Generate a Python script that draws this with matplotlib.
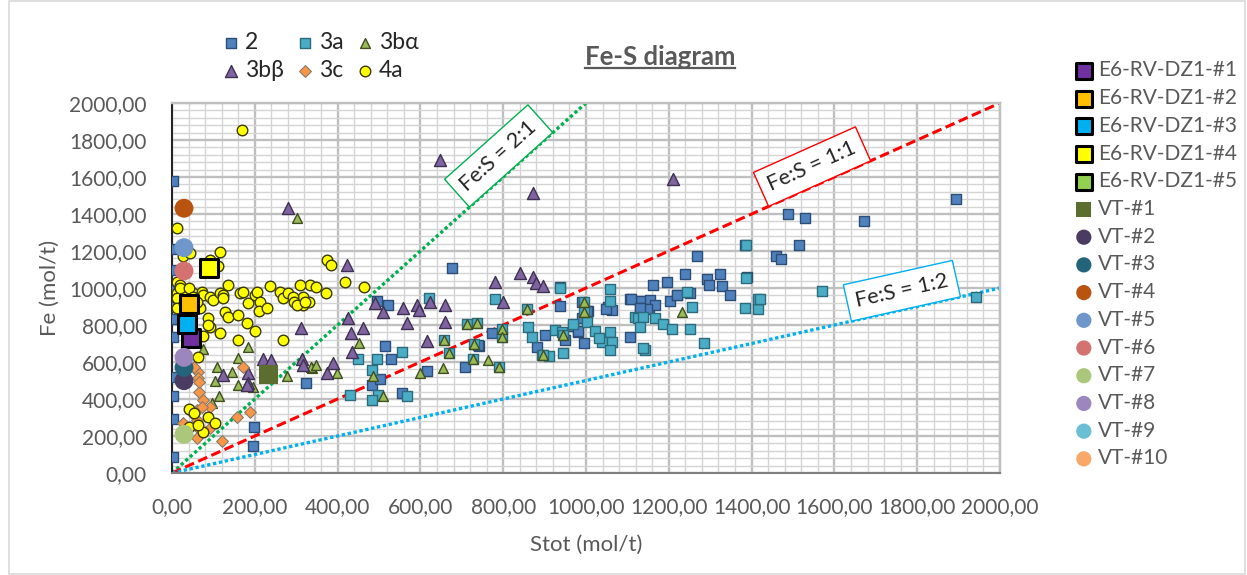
import numpy as np
import matplotlib
matplotlib.use('Agg')
import matplotlib.pyplot as plt
from matplotlib.ticker import MultipleLocator, FuncFormatter
from matplotlib.lines import Line2D
from matplotlib.patches import Rectangle

plt.rcParams['font.family'] = ['Lato', 'DejaVu Sans']

# ---- data (Stot, Fe in mol/t) ----
# group 2 (blue squares)
s2_x = [2, 2, 2, 2, 2, 2, 2, 2, 2, 2, 2, 198, 196, 324, 494, 522, 514, 529, 482, 502,
        555, 616, 676, 742, 708, 772, 739, 881, 901, 949, 969, 981, 990, 994, 1006,
        1054, 1062, 937, 1106, 1134, 1155, 1130, 1151, 1167, 1203, 1219, 1251, 1163,
        1195, 1239, 1292, 1296, 1328, 1348, 1324, 1267, 1385, 1388, 1221, 1108, 1106,
        1147, 1131, 1893, 1672, 1529, 1489, 1515, 1460, 1472, 937, 991, 1002, 980, 1048]
s2_y = [1580, 1210, 1100, 990, 900, 835, 735, 520, 415, 290, 85, 250, 145, 485, 930, 908,
        688, 616, 476, 507, 431, 552, 1106, 686, 575, 755, 692, 683, 746, 719, 794, 764,
        836, 705, 877, 899, 881, 1007, 938, 929, 935, 890, 884, 908, 929, 962, 971, 1016,
        1034, 1074, 1047, 1016, 1013, 962, 1077, 1174, 1232, 1058, 962, 940, 737, 886,
        894, 1479, 1364, 1376, 1400, 1233, 1175, 1157, 903, 926, 875, 768, 889]

# group 3a (cyan squares)
s3a_x = [621, 450, 494, 555, 482, 430, 498, 567, 482, 780, 937, 1058, 1058, 860, 869, 925,
         941, 945, 1058, 1038, 1062, 1002, 1058, 1143, 1118, 1126, 1167, 1187, 1207, 1251,
         1255, 1243, 1284, 893, 1384, 1416, 1416, 1138, 1131, 1138, 1386, 1421, 1569, 1941,
         1386, 911, 1022, 1032, 968,
         712, 736, 796, 796, 730, 857, 897, 790, 945, 994, 994, 656, 668, 726]
s3a_y = [944, 614, 614, 652, 557, 422, 422, 418, 395, 940, 998, 995, 929, 791, 737, 773,
         764, 651, 764, 710, 710, 818, 665, 665, 845, 836, 840, 805, 777, 777, 895, 976,
         705, 638, 894, 886, 940, 845, 787, 674, 1233, 938, 985, 949, 1056, 633, 768, 730,
         805,
         805, 813, 777, 734, 695, 888, 638, 573, 745, 926, 872, 719, 647, 614]

# group 3b-alpha (green triangles)
s3ba_x = [75, 184, 160, 108, 144, 104, 160, 114, 96, 277, 337, 196, 303, 452, 486, 510, 600,
          398, 336, 349, 764, 1231, 655,
          712, 736, 796, 796, 730, 857, 897, 790, 945, 994, 994, 656, 668, 726]
s3ba_y = [670, 683, 623, 575, 544, 497, 476, 416, 380, 524, 569, 467, 1377, 701, 526, 418,
          543, 539, 575, 584, 611, 872, 566,
          805, 813, 777, 734, 695, 888, 638, 573, 745, 926, 872, 719, 647, 614]

# group 3b-beta (purple triangles)
s3bb_x = [279, 647, 871, 1211, 422, 490, 510, 559, 591, 596, 624, 660, 567, 659, 424, 462,
          433, 616, 435, 374, 311, 390, 840, 780, 873, 879, 897, 800, 124, 184, 184, 220,
          240, 313, 317, 180]
s3bb_y = [1431, 1692, 1516, 1589, 1124, 921, 872, 890, 908, 881, 926, 908, 813, 818, 836,
          782, 755, 716, 656, 539, 782, 593, 1080, 1034, 1062, 1029, 1011, 926, 530, 539,
          485, 614, 610, 614, 584, 476]

# group 3c (orange diamonds)
s3c_x = [64, 64, 66, 76, 92, 60, 27, 31, 60, 120, 188, 156, 172, 52, 92, 66, 73, 48, 68, 60]
s3c_y = [548, 512, 440, 395, 359, 341, 269, 233, 287, 173, 332, 305, 571, 575, 241, 494,
         358, 322, 232, 188]

# group 4a (yellow circles)
s4a_x = [168, 13, 116, 26, 43, 92, 110, 374, 384, 418, 372, 333, 349, 310, 317, 331, 317,
         464, 11, 19, 136, 237, 11, 31, 51, 72, 76, 92, 100, 116, 124, 124, 128, 136, 164,
         172, 184, 200, 205, 213, 209, 229, 261, 269, 281, 293, 295, 301, 321, 160, 68, 60,
         11, 11, 88, 160, 269, 116, 92, 76, 63, 180, 200, 88, 40, 52, 88, 104, 42, 76, 64,
         20, 40, 50, 30, 45]
s4a_y = [1854, 1326, 1196, 1175, 1187, 1151, 1119, 1150, 1122, 1034, 971, 1016, 1003, 1016,
         953, 926, 908, 1007, 1034, 1016, 1016, 1011, 971, 980, 971, 980, 962, 953, 935,
         971, 962, 944, 872, 845, 971, 980, 917, 962, 980, 926, 876, 890, 978, 944, 971, 953,
         926, 908, 926, 852, 890, 926, 944, 890, 836, 719, 719, 755, 787, 740, 629, 809, 767,
         800, 344, 322, 305, 268, 250, 223, 259, 1000, 1000, 950, 920, 880]

# individual samples
e6_labels = ['E6-RV-DZ1-#1', 'E6-RV-DZ1-#2', 'E6-RV-DZ1-#3', 'E6-RV-DZ1-#4', 'E6-RV-DZ1-#5']
e6_x = [45, 42, 36, 89, None]
e6_y = [728, 913, 806, 1106, None]
e6_colors = ['#7030A0', '#FFC000', '#00B0F0', '#FFFF00', '#92D050']

vt_labels = ['VT-#1', 'VT-#2', 'VT-#3', 'VT-#4', 'VT-#5', 'VT-#6', 'VT-#7', 'VT-#8',
             'VT-#9', 'VT-#10']
vt_x = [233, 29, 29, 29, 29, 29, 29, 29, None, None]
vt_y = [533, 499, 571, 1431, 1218, 1092, 209, 625, None, None]
vt_colors = ['#5B6E2F', '#4A3B62', '#23647A', '#B85410', '#6F97CC', '#D47171', '#AAC77C',
             '#9C86BE', '#6BBFD4', '#F9A86A']

# Fe:S reference lines and their labels
ratio_vals = [2.0, 1.0, 0.5]
ratio_names = ['Fe:S = 2:1', 'Fe:S = 1:1', 'Fe:S = 1:2']
ratio_label_x = [789, 1546, 1763]
ratio_label_y = [1714, 1656, 985]

gray = '#595959'

fig = plt.figure(figsize=(12.47, 5.75), dpi=100)
ax = fig.add_axes([172 / 1247, 1 - 473 / 575, 828 / 1247, 370 / 575])

ax.set_xlim(0, 2000)
ax.set_ylim(0, 2000)
ax.xaxis.set_major_locator(MultipleLocator(200))
ax.yaxis.set_major_locator(MultipleLocator(200))
ax.xaxis.set_minor_locator(MultipleLocator(40))
ax.yaxis.set_minor_locator(MultipleLocator(40))
ax.set_axisbelow(True)
ax.grid(which='major', color='#BFBFBF', lw=1.7)
ax.grid(which='minor', color='#D4D4D4', lw=1.0)
fmt = FuncFormatter(lambda v, p: f'{v:.2f}'.replace('.', ','))
ax.xaxis.set_major_formatter(fmt)
ax.yaxis.set_major_formatter(fmt)
ax.tick_params(which='both', length=0, labelsize=15, labelcolor=gray)
ax.tick_params(axis='x', pad=17)
ax.tick_params(axis='y', pad=18)
ax.spines['left'].set_color('#262626')
ax.spines['left'].set_linewidth(1.5)
ax.spines['bottom'].set_color('#7F7F7F')
ax.spines['bottom'].set_linewidth(1.5)
for sp in ['top', 'right']:
    ax.spines[sp].set_color('#BFBFBF')
    ax.spines[sp].set_linewidth(1.7)

# ratio lines
line_styles = [dict(color='#00B050', ls=(0, (1, 0.8)), lw=2.4),
               dict(color='#FF0000', ls=(0, (3.2, 1.5)), lw=2.2),
               dict(color='#00B0F0', ls=(0, (1, 0.8)), lw=2.4)]
for r, st in zip(ratio_vals, line_styles):
    xe = min(2000, 2000 / r)
    ax.plot([0, xe], [0, r * xe], zorder=2, **st)

for r, name, lx, ly, st in zip(ratio_vals, ratio_names, ratio_label_x, ratio_label_y,
                               line_styles):
    ax.text(lx, ly, name, fontsize=15.5, color='#262626', ha='center', va='center',
            rotation=np.degrees(np.arctan(r)), transform_rotates_text=True,
            rotation_mode='anchor', zorder=6,
            bbox=dict(boxstyle='square,pad=0.4', fc='white', ec=st['color'], lw=1.0))

# group series
kw = dict(zorder=3)
h2 = ax.scatter(s2_x, s2_y, marker='s', s=55, fc='#4F81BD', ec='#2C4D75', lw=1, label='2', **kw)
h3a = ax.scatter(s3a_x, s3a_y, marker='s', s=55, fc='#4BACC6', ec='#2C6B7C', lw=1, label='3a', **kw)
h3ba = ax.scatter(s3ba_x, s3ba_y, marker='^', s=50, fc='#9BBB59', ec='#3F4F20', lw=1, label='3bα', **kw)
h3bb = ax.scatter(s3bb_x, s3bb_y, marker='^', s=75, fc='#8064A2', ec='#3F3151', lw=1, label='3bβ', **kw)
h3c = ax.scatter(s3c_x, s3c_y, marker='D', s=36, fc='#F79646', ec='#8C7B6B', lw=0.8, label='3c', **kw)
h4a = ax.scatter(s4a_x, s4a_y, marker='o', s=58, fc='#FFFF00', ec='#3A3A00', lw=1, label='4a', **kw)

right_handles = []
for lab, x, y, c in zip(e6_labels, e6_x, e6_y, e6_colors):
    xs = [] if x is None else [x]
    ys = [] if y is None else [y]
    right_handles.append(ax.scatter(xs, ys, marker='s', s=160, fc=c, ec='black', lw=2.2,
                                    label=lab, zorder=5))
for i, (lab, x, y, c) in enumerate(zip(vt_labels, vt_x, vt_y, vt_colors)):
    xs = [] if x is None else [x]
    ys = [] if y is None else [y]
    right_handles.append(ax.scatter(xs, ys, marker='s' if i == 0 else 'o',
                                    s=200 if i == 0 else 185, fc=c, ec='none',
                                    label=lab, zorder=5))

leg_r = fig.legend(handles=right_handles, loc='upper left',
                   bbox_to_anchor=(1063 / 1247, 1 - 50 / 575), frameon=False,
                   fontsize=15, labelspacing=0.37, handletextpad=0.2,
                   handlelength=1.0, borderpad=0, labelcolor=gray, scatterpoints=1)
for h in leg_r.legend_handles:
    h.set_sizes([120])

leg_t = fig.legend(handles=[h2, h3bb, h3a, h3c, h3ba, h4a], ncol=3, loc='upper left',
                   bbox_to_anchor=(208 / 1247, 1 - 21 / 575), frameon=False,
                   fontsize=16.5, labelspacing=0.3, handletextpad=0.1, handlelength=1.0,
                   columnspacing=0.45, borderpad=0, labelcolor='#262626', scatterpoints=1)

ax.set_xlabel('Stot (mol/t)', fontsize=16, color=gray)
ax.set_ylabel('Fe (mol/t)', fontsize=16, color=gray)
ax.xaxis.set_label_coords(0.5, -0.168)
ax.yaxis.set_label_coords(-0.136, 0.5)

title = fig.text(660 / 1247, 1 - 57 / 575, 'Fe-S diagram', fontsize=18.5, weight='bold',
                 color=gray, ha='center', va='center')

# chart area border
fig.add_artist(Rectangle((9 / 1247, 0.002), 1 - 11 / 1247, 0.996, transform=fig.transFigure,
                         fill=False, ec='#D9D9D9', lw=1.2))

# underline the title
fig.canvas.draw()
bb = title.get_window_extent().transformed(fig.transFigure.inverted())
fig.add_artist(Line2D([bb.x0, bb.x1], [bb.y0 + 0.002, bb.y0 + 0.002],
                      transform=fig.transFigure, color=gray, lw=1.6))

fig.savefig('out.png', dpi=100)
